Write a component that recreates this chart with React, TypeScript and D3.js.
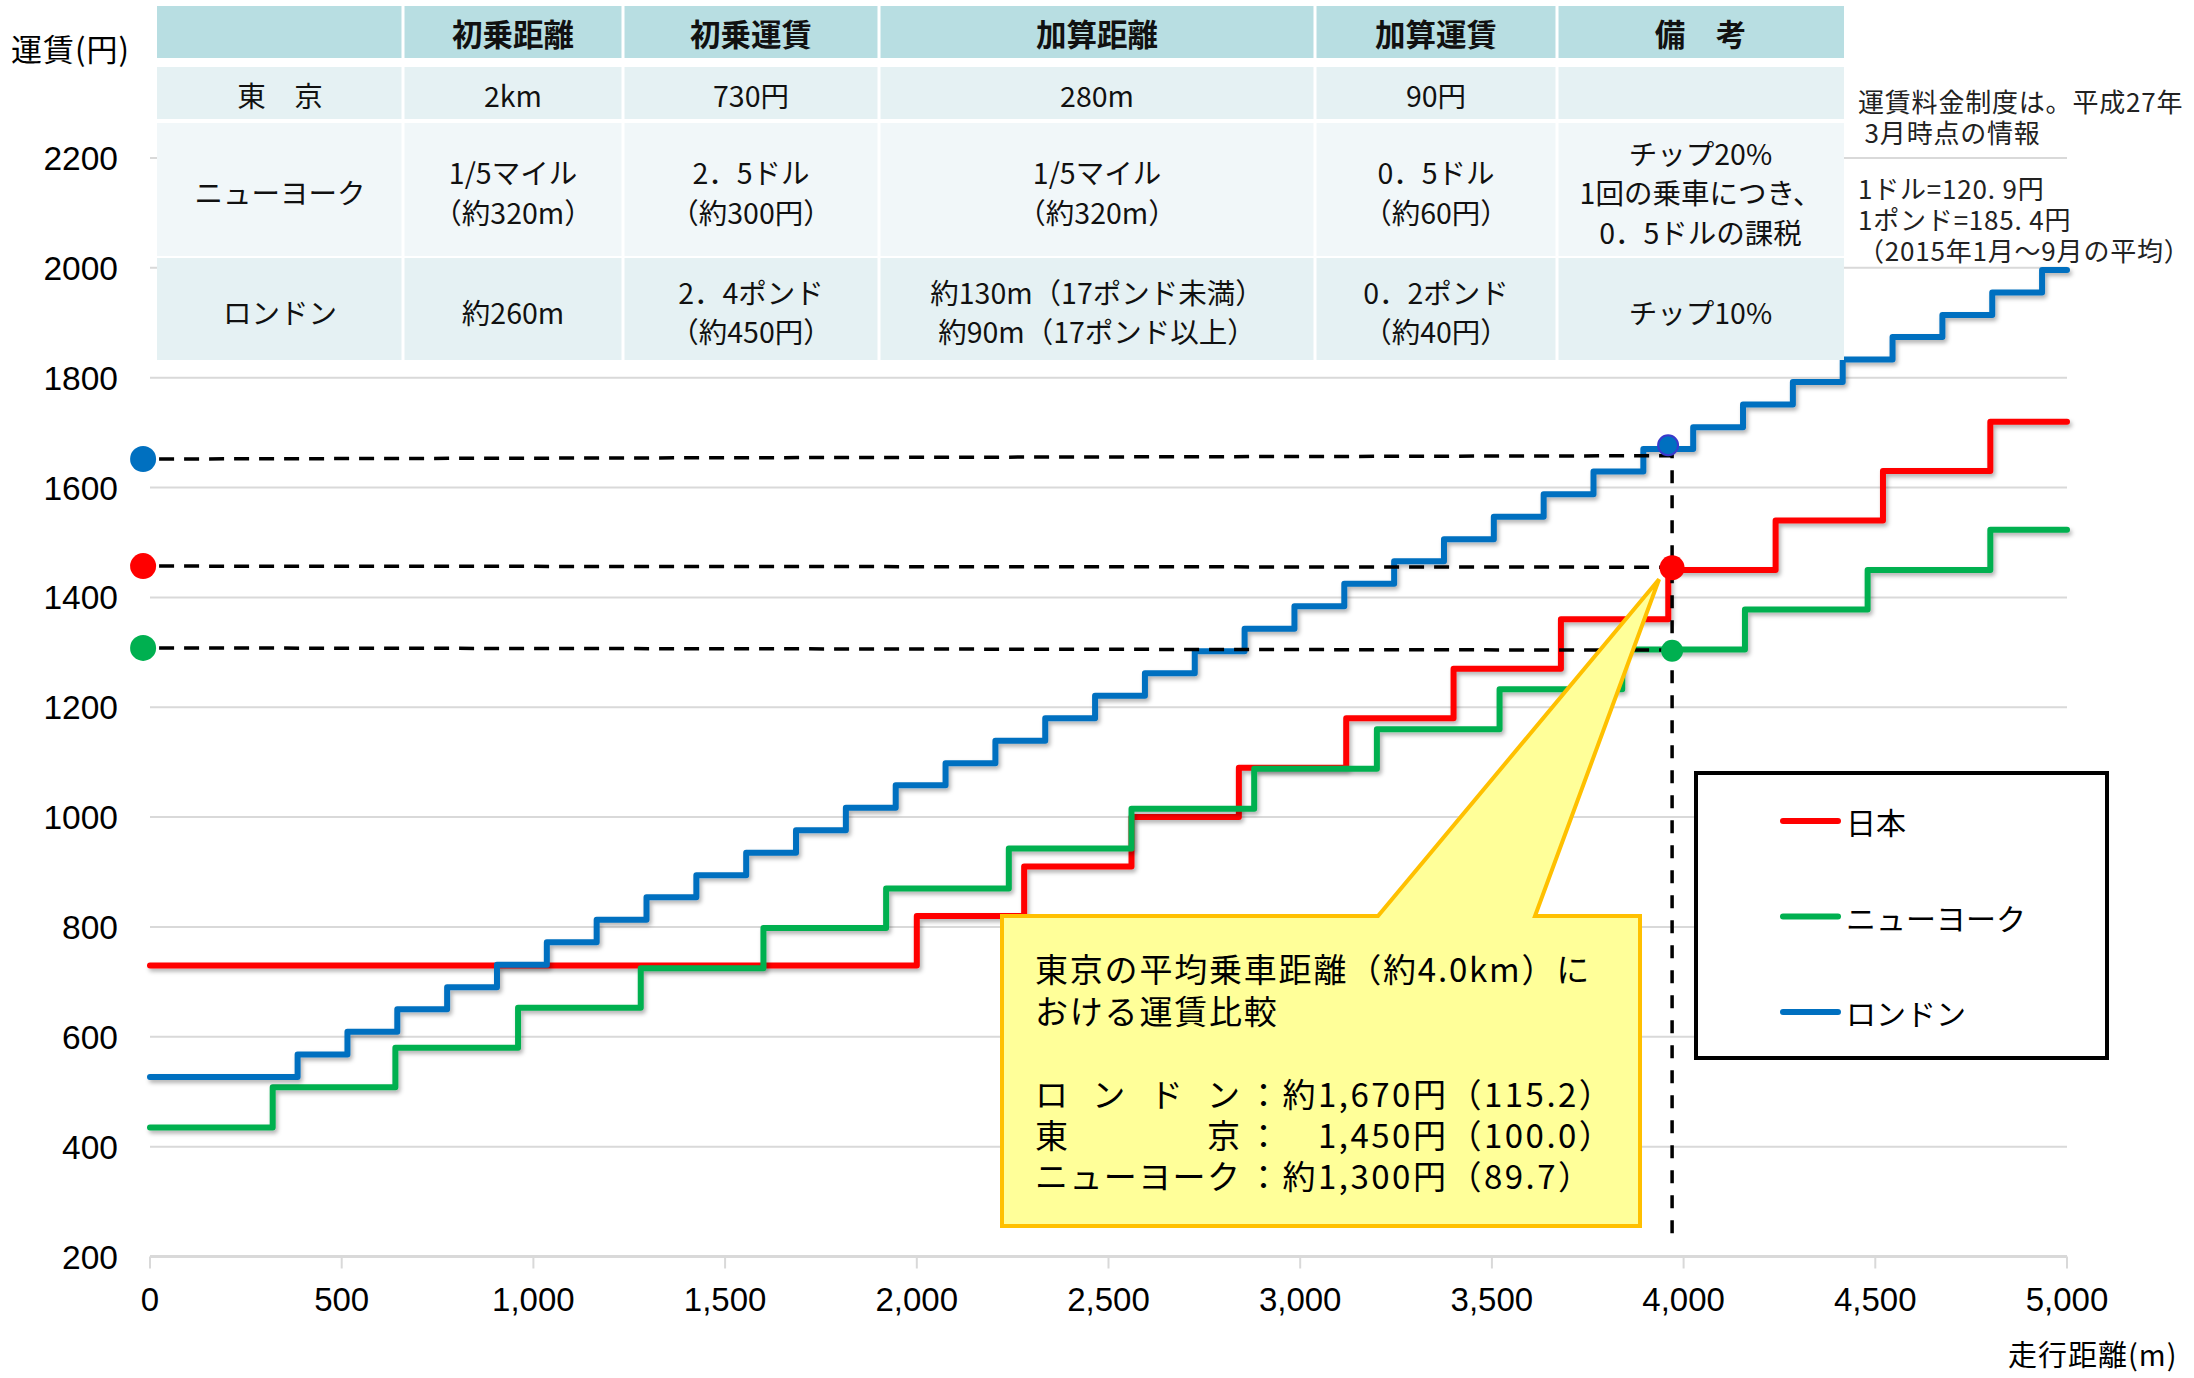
import React from 'react';
import * as d3 from 'd3';

// ---------- data ----------
const xTicks = [0, 500, 1000, 1500, 2000, 2500, 3000, 3500, 4000, 4500, 5000];
const yTicks = [200, 400, 600, 800, 1000, 1200, 1400, 1600, 1800, 2000, 2200];

const tokyoDist = [0, 2000, 2280, 2560, 2840, 3120, 3400, 3680, 3960, 4240, 4520, 4800, 5000];
const tokyoFare = [730, 820, 910, 1000, 1090, 1180, 1270, 1360, 1450, 1540, 1630, 1720, 1720];

const nyDist = [0, 320, 640, 960, 1280, 1600, 1920, 2240, 2560, 2880, 3200, 3520, 3840, 4160, 4480, 4800, 5000];
const nyFare = [435, 508, 580, 653, 725, 798, 870, 943, 1015, 1088, 1160, 1233, 1305, 1378, 1450, 1523, 1523];

const londonDist = [0, 385, 515, 645, 775, 905, 1035, 1165, 1295, 1425, 1555, 1685, 1815, 1945, 2075, 2205, 2335, 2465, 2595, 2725, 2855, 2985, 3115, 3245, 3375, 3505, 3635, 3765, 3895, 4025, 4155, 4285, 4415, 4545, 4675, 4805, 4935, 5000];
const londonFare = [527, 568, 609, 650, 690, 731, 772, 813, 854, 894, 935, 976, 1017, 1058, 1098, 1139, 1180, 1221, 1262, 1302, 1343, 1384, 1425, 1466, 1506, 1547, 1588, 1629, 1670, 1710, 1751, 1792, 1833, 1874, 1914, 1955, 1996, 1996];

const seriesNames = ['日本', 'ニューヨーク', 'ロンドン'];
const seriesColors = ['#ff0000', '#00b050', '#0070c0'];

// reference markers (London, Tokyo, New York)
const avgDist = 3970;
const markerLeftDist = -18;
const markerColors = ['#0070c0', '#ff0000', '#00b050'];
const markerLeftFare = [1652, 1457, 1308];
const markerDashEndFare = [1658, 1455, 1304];
const markerRightFare = [1677, 1454, 1303];
const verticalBottomFare = 235;

const calloutLines = ['東京の平均乗車距離（約4.0km）に', 'おける運賃比較'];
const compareLabels = ['ロンドン', '東京', 'ニューヨーク'];
const compareValues = ['約1,670円（115.2）', '　1,450円（100.0）', '約1,300円（89.7）'];

const tableHeader = ['', '初乗距離', '初乗運賃', '加算距離', '加算運賃', '備　考'];
const tableTokyo = [['東　京'], ['2km'], ['730円'], ['280m'], ['90円'], ['']];
const tableNY = [['ニューヨーク'], ['1/5マイル', '（約320m）'], ['2．5ドル', '（約300円）'], ['1/5マイル', '（約320m）'], ['0．5ドル', '（約60円）'], ['チップ20%', '1回の乗車につき、', '0．5ドルの課税']];
const tableLondon = [['ロンドン'], ['約260m'], ['2．4ポンド', '（約450円）'], ['約130m（17ポンド未満）', '約90m（17ポンド以上）'], ['0．2ポンド', '（約40円）'], ['チップ10%']];

const notesLines = ['運賃料金制度は。平成27年', ' 3月時点の情報', '1ドル=120. 9円', '1ポンド=185. 4円', '（2015年1月～9月の平均）'];

const yTitle = '運賃(円)';
const xTitle = '走行距離(m)';

// ---------- layout ----------
const W = 2194, H = 1378;
const CJK = "'Noto Sans CJK JP', 'Noto Sans', sans-serif";
const LAT = "'Liberation Sans', Arial, sans-serif";

export default function App() {
  const x = d3.scaleLinear().domain([0, 5000]).range([150, 2067]);
  const y = d3.scaleLinear().domain([200, 2200]).range([1256.5, 158]);

  const line = d3.line<[number, number]>()
    .x(d => x(d[0]))
    .y(d => y(d[1]))
    .curve(d3.curveStepAfter);

  const series = [
    tokyoDist.map((d, i) => [d, tokyoFare[i]] as [number, number]),
    nyDist.map((d, i) => [d, nyFare[i]] as [number, number]),
    londonDist.map((d, i) => [d, londonFare[i]] as [number, number]),
  ];

  // table layout
  const colX = [157, 403, 623, 879, 1315, 1557, 1844];
  const rowsY = [[6, 58], [67, 119], [123, 256], [258, 360]];
  const rowFill = ['#b8dee2', '#e5f1f3', '#f1f7f9', '#e5f1f3'];
  const rows = [tableHeader.map(t => [t]), tableTokyo, tableNY, tableLondon];

  // callout geometry
  const bx0 = 1002, bx1 = 1640, by0 = 916, by1 = 1226;
  const tipX = x(3936), tipY = y(1433);
  const calloutPath = `M${bx0},${by0} L1378,${by0} L${tipX},${tipY} L1535,${by0} L${bx1},${by0} L${bx1},${by1} L${bx0},${by1} Z`;

  const ax = x(avgDist);
  const notesY = [100, 131, 187, 218, 249];

  return (
    <svg width={W} height={H} style={{ position: 'absolute', left: 0, top: 0, background: '#fff' }}>
      <defs>
        <filter id="shadow" x="-5%" y="-5%" width="110%" height="110%">
          <feDropShadow dx="2" dy="3" stdDeviation="2" floodColor="#000" floodOpacity="0.3" />
        </filter>
      </defs>
      <rect x={0} y={0} width={W} height={H} fill="#fff" />

      {/* gridlines */}
      {yTicks.filter(t => t > 200).map(t => (
        <line key={t} x1={x(0)} x2={x(5000)} y1={y(t)} y2={y(t)} stroke="#d9d9d9" strokeWidth={2} />
      ))}
      {/* x axis */}
      <line x1={x(0)} x2={x(5000)} y1={y(200)} y2={y(200)} stroke="#d9d9d9" strokeWidth={3} />
      {xTicks.map(t => (
        <line key={t} x1={x(t)} x2={x(t)} y1={y(200)} y2={y(200) + 12} stroke="#d9d9d9" strokeWidth={2} />
      ))}
      {xTicks.map(t => (
        <text key={t} x={x(t)} y={y(200) + 54} textAnchor="middle" fontFamily={LAT} fontSize={33} fill="#000">
          {d3.format(',')(t)}
        </text>
      ))}
      {yTicks.map(t => (
        <text key={t} x={118} y={y(t) + 12} textAnchor="end" fontFamily={LAT} fontSize={33.5} fill="#000">
          {t}
        </text>
      ))}

      {/* series */}
      {series.map((s, i) => (
        <path key={i} d={line(s) || ''} fill="none" stroke={seriesColors[i]} strokeWidth={6}
          strokeLinejoin="round" strokeLinecap="round" filter="url(#shadow)" />
      ))}

      {/* dashed reference lines */}
      {markerLeftFare.map((f, i) => (
        <line key={i} x1={x(markerLeftDist) + 16} y1={y(f)} x2={ax} y2={y(markerDashEndFare[i])}
          stroke="#000" strokeWidth={3.5} strokeDasharray="15,10" />
      ))}
      <line x1={ax} x2={ax} y1={y(markerRightFare[0])} y2={y(verticalBottomFare)} stroke="#000" strokeWidth={3.5} strokeDasharray="13,12" />
      {markerLeftFare.map((f, i) => (
        <circle key={i} cx={x(markerLeftDist)} cy={y(f)} r={13} fill={markerColors[i]} />
      ))}
      {markerRightFare.map((f, i) => (
        <circle key={i} cx={ax - (i === 0 ? 4 : 0)} cy={y(f)} r={i === 0 ? 10 : i === 1 ? 12.5 : 11}
          fill={markerColors[i]} stroke={i === 0 ? '#3a3acc' : 'none'} strokeWidth={2} />
      ))}

      {/* callout */}
      <path d={calloutPath} fill="#ffff99" stroke="#ffc000" strokeWidth={4} strokeLinejoin="miter" />
      {calloutLines.map((t, i) => (
        <text key={i} x={1035} y={968 + i * 42} dominantBaseline="central" fontFamily={CJK} fontSize={33} letterSpacing={1.8} fill="#000">{t}</text>
      ))}
      {compareLabels.map((t, i) => (
        <text key={i} x={1035} y={1093 + i * 41} dominantBaseline="central" fontFamily={CJK} fontSize={33}
          textLength={205} lengthAdjust="spacing" fill="#000">{t}</text>
      ))}
      {compareValues.map((t, i) => (
        <text key={i} x={1247} y={1093 + i * 41} dominantBaseline="central" fontFamily={CJK} fontSize={33} letterSpacing={2.5} fill="#000">{'：' + t}</text>
      ))}

      {/* legend */}
      <rect x={1696} y={773} width={411} height={285} fill="#fff" stroke="#000" strokeWidth={4} />
      {seriesNames.map((n, i) => (
        <g key={n}>
          <line x1={1783} x2={1838} y1={821 + i * 95.5} y2={821 + i * 95.5} stroke={seriesColors[i]} strokeWidth={6} strokeLinecap="round" />
          <text x={1846} y={821 + i * 95.5} dominantBaseline="central" fontFamily={CJK} fontSize={30} fill="#000">{n}</text>
        </g>
      ))}

      {/* table */}
      {rowsY.map((r, ri) => (
        <rect key={ri} x={colX[0]} y={r[0]} width={colX[6] - colX[0]} height={r[1] - r[0]} fill={rowFill[ri]} />
      ))}
      {colX.slice(1, 6).map((cx, i) => (
        <line key={i} x1={cx} x2={cx} y1={0} y2={362} stroke="#fff" strokeWidth={3} />
      ))}
      {rows.map((row, ri) => {
        const cy = (rowsY[ri][0] + rowsY[ri][1]) / 2 + (ri >= 2 ? 2 : 1);
        return row.map((cell, ci) => {
          const cxm = (colX[ci] + colX[ci + 1]) / 2;
          const n = cell.length;
          return cell.map((t, li) => (
            <text key={`${ri}-${ci}-${li}`} x={cxm} y={cy + (li - (n - 1) / 2) * 39.5}
              textAnchor="middle" dominantBaseline="central" fontFamily={CJK}
              fontSize={ri === 0 ? 30.5 : 28.5} fontWeight={ri === 0 ? 700 : 400} fill="#111">{t}</text>
          ));
        });
      })}

      {/* notes */}
      {notesLines.map((t, i) => (
        <text key={i} x={1858} y={notesY[i]} dominantBaseline="central" fontFamily={CJK}
          fontSize={26} letterSpacing={0.8} fill="#222" style={{ whiteSpace: 'pre' }}>{t}</text>
      ))}

      {/* axis titles */}
      <text x={11} y={47} dominantBaseline="central" fontFamily={CJK} fontSize={31} letterSpacing={1} fill="#000">{yTitle}</text>
      <text x={2008} y={1353} dominantBaseline="central" fontFamily={CJK} fontSize={29} letterSpacing={1} fill="#000">{xTitle}</text>
    </svg>
  );
}
